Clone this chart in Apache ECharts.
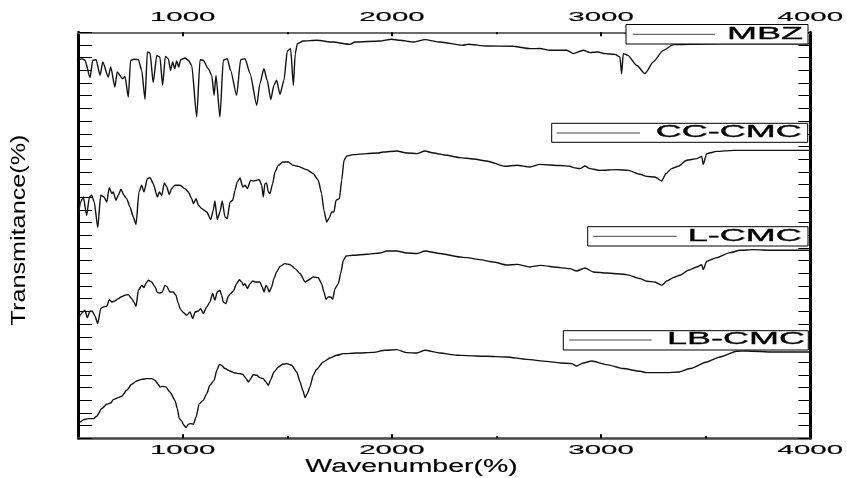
<!DOCTYPE html>
<html>
<head>
<meta charset="utf-8">
<script src="https://cdn.jsdelivr.net/npm/echarts@6/dist/echarts.min.js"></script>
<style>
  html, body { margin: 0; padding: 0; background: #fff; }
  #chart { width: 847px; height: 478px; }
</style>
</head>
<body>
<div id="chart"></div>
<script>
// FTIR spectra: wavenumber (cm-1) and transmittance (arbitrary %, per panel)
const mbzWave = [504,517,533,557,570,586,605,618,644,656,676,687,713,724,740,751,767,788,804,820,831,844,859,876,891,904,917,931,942,952,962,971,981,990,1011,1027,1043,1067,1083,1098,1122,1139,1150,1159,1178,1194,1213,1229,1258,1277,1298,1322,1354,1369,1388,1404,1421,1436,1449,1465,1484,1500,1516,1529,1538,1548,1576,1641,1718,1800,1823,1943,1999,2038,2101,2158,2230,2340,2364,2453,2579,2660,2708,2755,2836,2867,2915,2947,2985,3019,3066,3090,3098,3106,3128,3170,3210,3249,3297,3345,3425,3568,3760,4000];
const mbzT = [72.4,74.1,72.4,55.4,72.4,73.1,57.6,70.7,55.9,65.8,46.1,60.9,54.4,56.6,36.2,72.4,73.4,73.1,62.5,34.0,80.6,79.6,50.4,77.3,75.6,47.8,76.3,74.1,62.5,70.7,64.2,71.7,65.8,73.1,74.7,72.4,67.5,16.5,73.1,72.4,64.2,57.6,37.9,57.6,16.5,72.4,74.1,62.5,37.9,73.1,74.1,59.3,28.1,49.4,64.2,52.7,33.7,47.8,52.7,38.9,52.7,81.6,83.9,47.8,79.0,88.8,91.4,92.1,90.4,88.1,90.4,91.4,93.1,92.1,90.4,92.8,90.4,87.2,88.2,86.5,86.2,83.9,84.0,82.3,82.3,79.0,82.3,80.0,80.6,79.0,78.3,75.6,59.1,79.0,77.3,67.5,59.3,70.7,82.2,87.9,88.2,88.6,88.6,88.6];

const ccWave = [501,512,525,541,554,565,577,594,608,624,637,649,661,668,681,692,705,719,732,748,764,777,791,804,815,831,844,859,879,888,900,912,924,936,947,963,987,1011,1027,1043,1051,1064,1075,1091,1115,1134,1146,1154,1165,1178,1189,1202,1213,1226,1239,1250,1261,1274,1287,1298,1309,1325,1337,1354,1366,1378,1385,1393,1401,1409,1417,1430,1441,1457,1478,1505,1529,1553,1593,1624,1648,1664,1675,1688,1701,1712,1723,1733,1749,1760,1771,1784,1815,1880,1935,1959,2023,2071,2119,2158,2198,2262,2325,2389,2453,2541,2597,2660,2708,2804,2851,2867,2899,2923,2947,2995,3074,3130,3186,3218,3257,3290,3310,3337,3369,3409,3457,3481,3488,3505,3553,3632,3744,3983,4000];
const ccT = [19.7,32.8,37.7,19.7,37.7,39.4,32.8,7.6,39.4,37.7,32.8,47.0,41.1,42.7,34.5,39.4,45.3,39.4,36.1,27.9,18.0,10.8,42.7,49.3,42.7,55.8,56.8,50.9,37.7,42.7,39.4,51.5,47.6,40.1,46.0,49.3,49.3,46.0,42.7,36.1,31.2,36.1,29.6,26.3,22.9,15.5,24.6,33.8,15.5,22.9,33.8,18.0,16.4,32.8,34.5,44.3,52.5,56.4,47.6,49.3,46.0,54.2,53.5,54.2,54.9,49.3,37.7,50.9,51.5,42.7,41.1,50.9,62.4,68.9,72.2,72.2,68.9,67.9,64.7,60.8,54.2,41.1,24.6,13.1,17.4,22.9,22.9,34.5,36.1,54.2,73.9,78.1,79.5,80.5,81.1,82.1,83.1,81.1,80.5,83.0,81.1,78.8,76.5,75.2,73.2,68.0,69.0,67.3,69.9,68.7,68.0,66.7,65.7,68.3,65.7,64.0,64.7,64.0,60.1,58.1,57.4,53.5,60.8,65.7,68.0,73.9,75.5,77.8,69.9,80.5,82.7,83.7,83.7,83.7,83.7];

const lWave = [501,509,522,533,544,557,568,581,594,608,620,637,649,661,676,692,705,724,740,756,767,777,788,804,815,825,836,852,868,879,891,902,915,924,939,955,968,979,990,1006,1019,1035,1048,1059,1075,1086,1098,1115,1130,1143,1154,1165,1178,1186,1194,1206,1218,1229,1242,1258,1271,1282,1290,1298,1309,1322,1335,1346,1357,1369,1380,1389,1398,1404,1414,1425,1436,1449,1465,1489,1513,1537,1561,1585,1600,1624,1648,1664,1675,1685,1696,1707,1717,1728,1744,1755,1768,1781,1815,1880,1943,1975,2023,2071,2119,2158,2230,2325,2357,2421,2485,2549,2597,2660,2708,2804,2851,2883,2923,2963,3027,3122,3186,3218,3257,3290,3314,3345,3377,3417,3457,3481,3488,3505,3553,3616,3664,3727,3823,3983,4000];
const lT = [14.6,21.2,24.4,26.1,18.9,25.1,25.1,20.2,13.0,27.8,29.4,30.0,36.6,34.3,35.3,37.6,39.2,40.9,41.6,37.6,34.3,30.0,45.8,50.7,48.5,53.0,55.7,54.0,49.1,43.5,43.1,44.1,50.7,49.7,44.1,44.1,40.9,32.7,26.8,23.4,21.2,24.4,17.9,24.4,25.4,27.8,22.9,29.4,34.3,42.6,36.0,44.1,45.8,40.9,34.3,32.7,39.9,42.6,45.1,52.4,56.3,54.0,50.7,52.4,47.5,52.4,55.0,54.0,54.0,54.0,49.1,44.1,50.7,49.1,44.1,49.1,57.3,63.8,69.4,72.1,71.1,67.2,62.3,54.0,55.7,58.9,58.3,52.4,44.1,36.9,39.2,39.2,36.9,47.5,52.4,62.3,75.4,79.6,80.3,81.3,82.5,84.5,84.5,82.5,82.0,84.5,82.0,78.6,78.0,76.0,73.7,70.7,71.4,68.8,70.4,68.2,67.2,64.8,67.8,63.8,62.8,61.3,57.3,54.7,54.0,50.7,55.0,58.3,60.6,65.5,68.8,71.1,66.2,74.4,78.0,82.9,85.2,85.9,85.2,85.2,85.2];

const lbWave = [500,509,528,549,573,589,613,637,656,668,692,708,732,756,780,804,828,852,868,883,891,904,920,939,963,974,984,995,1006,1016,1027,1038,1051,1064,1079,1098,1115,1130,1150,1163,1175,1186,1202,1226,1250,1274,1287,1303,1314,1325,1337,1354,1369,1385,1398,1409,1421,1436,1457,1478,1497,1521,1545,1561,1574,1585,1596,1608,1624,1640,1672,1704,1736,1768,1832,1911,1967,2023,2071,2119,2158,2230,2310,2357,2453,2549,2644,2740,2804,2859,2883,2915,2955,3027,3106,3186,3218,3314,3369,3425,3505,3568,3648,3696,3823,3983,4000];
const lbT = [15.1,16.1,18.4,19.4,19.4,21.7,29.3,33.5,34.8,38.1,40.1,41.4,47.3,53.2,56.4,58.1,58.8,58.8,57.1,53.2,50.5,51.2,50.5,45.6,37.4,29.3,19.4,17.0,12.8,10.5,13.8,14.5,13.8,21.0,34.2,37.4,44.0,52.2,57.1,67.0,72.6,71.9,68.7,66.3,64.3,63.7,63.0,58.8,55.5,58.8,62.7,62.1,59.8,58.8,55.5,52.2,57.8,65.3,70.2,72.9,73.6,71.9,65.3,55.5,47.3,40.1,44.3,50.5,62.1,68.0,75.2,79.1,81.8,83.4,84.0,84.7,86.7,87.4,84.4,84.0,86.7,84.0,81.8,81.5,80.8,80.1,77.8,75.8,74.2,73.6,71.2,74.2,76.1,72.6,68.7,66.0,64.7,64.7,65.3,68.7,75.2,80.1,85.7,86.0,85.0,85.0,85.0];

const seriesNames = ['MBZ', 'CC-CMC', 'L-CMC', 'LB-CMC'];
const xTickLabels = [1000, 2000, 3000, 4000];
const xMinorTicks = [1500, 2500, 3500];
const xTitle = 'Wavenumber(%)';
const yTitle = 'Transmitance(%)';

// ---- layout ----
const PLOT = { left: 78.1, right: 810.3, top: 32.3, bottom: 438.3 };
const PANEL_H = (PLOT.bottom - PLOT.top) / 4;
const FONT = '"Liberation Sans", Arial, sans-serif';

const spectra = [
  { wave: mbzWave, t: mbzT },
  { wave: ccWave, t: ccT },
  { wave: lWave, t: lT },
  { wave: lbWave, t: lbT }
];

const grids = spectra.map((s, i) => ({
  left: PLOT.left,
  width: PLOT.right - PLOT.left,
  top: PLOT.top + i * PANEL_H,
  height: PANEL_H
}));

const xBase = {
  type: 'value', min: 500, max: 4000, interval: 500,
  splitLine: { show: false }, axisLabel: { show: false }
};
const majorTick = { show: true, inside: true, length: 4, customValues: xTickLabels, lineStyle: { color: '#000', width: 2 } };
const minorTick = { show: true, inside: true, length: 2, customValues: xMinorTicks, lineStyle: { color: '#000', width: 2 } };

const xAxis = [
  Object.assign({}, xBase, { gridIndex: 0, position: 'top',
    axisLine: { show: true, onZero: false, lineStyle: { color: '#6a6a6a', width: 2 } }, axisTick: majorTick }),
  Object.assign({}, xBase, { gridIndex: 1, show: false }),
  Object.assign({}, xBase, { gridIndex: 2, show: false }),
  Object.assign({}, xBase, { gridIndex: 3, position: 'bottom',
    axisLine: { show: true, onZero: false, lineStyle: { color: '#444', width: 2.5 } }, axisTick: majorTick }),
  Object.assign({}, xBase, { gridIndex: 0, position: 'top',
    axisLine: { show: false, onZero: false }, axisTick: minorTick }),
  Object.assign({}, xBase, { gridIndex: 3, position: 'bottom',
    axisLine: { show: false, onZero: false }, axisTick: minorTick })
];

const yAxis = [];
spectra.forEach((s, i) => {
  ['left', 'right'].forEach(pos => {
    yAxis.push({
      type: 'value', gridIndex: i, position: pos,
      min: 0, max: 100, interval: 12.5,
      splitLine: { show: false }, axisLabel: { show: false },
      axisLine: { show: true, onZero: false, lineStyle: { color: '#000', width: 3 } },
      axisTick: { show: true, inside: true, length: pos === 'left' ? 14 : 12, lineStyle: { color: '#000', width: 1 } }
    });
  });
});

const series = spectra.map((s, i) => ({
  name: seriesNames[i],
  type: 'line',
  xAxisIndex: i,
  yAxisIndex: i * 2,
  data: s.wave.map((w, k) => [w, s.t[k]]),
  showSymbol: false,
  smooth: 0.2,
  smoothMonotone: 'x',
  lineStyle: { color: '#111', width: 1.4 },
  silent: true
}));

const chart = echarts.init(document.getElementById('chart'));
chart.setOption({
  animation: false,
  backgroundColor: '#fff',
  grid: grids,
  xAxis: xAxis,
  yAxis: yAxis,
  series: series
});

// ---- legend boxes, tick labels and axis titles ----
const legendBoxes = [
  { box: [626, 24.5, 182, 19.5], line: [632.7, 715], textRight: 803, cy: 34.3 },
  { box: [551.7, 123.3, 256, 19], line: [556.7, 640], textRight: 801.7, cy: 133 },
  { box: [587.7, 226.7, 220.3, 19.3], line: [593.3, 676.7], textRight: 801.7, cy: 236.3 },
  { box: [563.3, 330.7, 245, 19.3], line: [569.3, 651.7], textRight: 805, cy: 340 }
];

// ink for the wide lettering: legend entries a little heavier than the rest
const legendInk = { fill: '#000', stroke: '#000', lineWidth: 0.3 };
const labelInk = { fill: '#000', stroke: '#000', lineWidth: 0.15 };

const graphic = [];
legendBoxes.forEach((lb, i) => {
  graphic.push({
    type: 'rect', z: 100,
    shape: { x: lb.box[0], y: lb.box[1], width: lb.box[2], height: lb.box[3] },
    style: { fill: '#fff', stroke: '#000', lineWidth: 1 }
  });
  graphic.push({
    type: 'line', z: 101,
    shape: { x1: lb.line[0], y1: lb.cy, x2: lb.line[1], y2: lb.cy },
    style: { stroke: '#444', lineWidth: 1 }
  });
  graphic.push({
    type: 'text', z: 101, x: lb.textRight, y: lb.cy, scaleX: 2.25,
    style: Object.assign({ text: seriesNames[i], font: '16px ' + FONT, align: 'right', verticalAlign: 'middle' }, legendInk)
  });
});

xTickLabels.forEach(v => {
  const px = chart.convertToPixel({ xAxisIndex: 0 }, v);
  [17, 450].forEach(cy => {
    graphic.push({
      type: 'text', z: 101, x: px, y: cy, scaleX: 2.3,
      style: Object.assign({ text: String(v), font: '12.8px ' + FONT, align: 'center', verticalAlign: 'middle' }, labelInk)
    });
  });
});

graphic.push({
  type: 'text', z: 101, x: 411.5, y: 467, scaleX: 1.58,
  style: Object.assign({ text: xTitle, font: '18px ' + FONT, align: 'center', verticalAlign: 'middle' }, labelInk)
});
graphic.push({
  type: 'text', z: 101, x: 19, y: 230, rotation: Math.PI / 2, scaleX: 1.2,
  style: Object.assign({ text: yTitle, font: '21px ' + FONT, align: 'center', verticalAlign: 'middle' }, { fill: '#000' })
});

chart.setOption({ graphic: graphic });
</script>
</body>
</html>
